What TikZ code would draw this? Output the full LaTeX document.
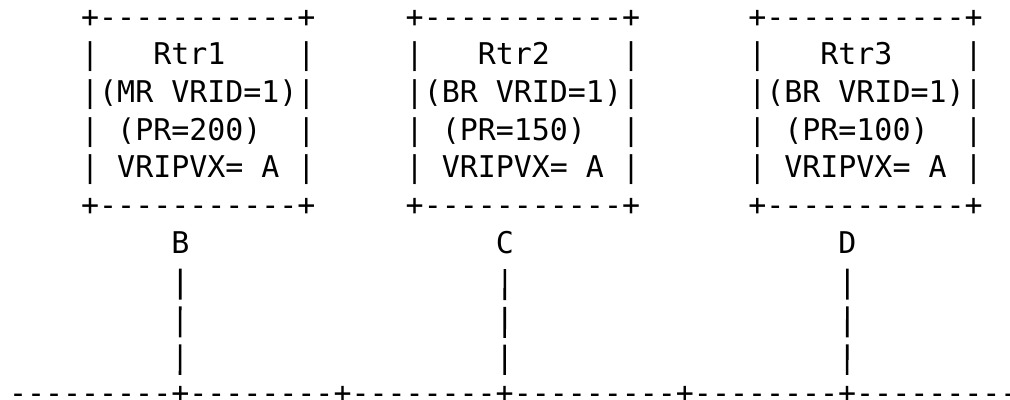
\documentclass[tikz,border=0pt]{standalone}
\usepackage{fontspec}
\setmonofont{DejaVu Sans Mono}

\begin{document}
\begin{tikzpicture}[
x=9.015pt,y=-18.83pt,
every node/.style={font=\ttfamily\fontsize{14.97}{18.83}\selectfont,inner sep=0pt,anchor=base west},
link/.style={line width=1.3pt,dash pattern=on 15.5pt off 3.4pt,shorten <=7.5pt,shorten >=14.5pt}
]
\useasboundingbox (-4.34pt,13.65pt) rectangle (500.66pt,-186.35pt);

% routers
\foreach \name/\col/\rtr/\role/\prio in {rtr1/4/Rtr1/MR/200,rtr2/22/Rtr2/BR/150,rtr3/41/Rtr3/BR/100}{
  \node (\name) at (\col,0) {+-----------+};
  \node (\name-a) at (\col,1) {|~~~\rtr~~~~|};
  \node (\name-b) at (\col,2) {|(\role~VRID=1)|};
  \node (\name-c) at (\col,3) {|~(PR=\prio)~~|};
  \node (\name-d) at (\col,4) {|~VRIPVX=~A~|};
  \node (\name-e) at (\col,5) {+-----------+};
}

% interfaces
\node (b) at (9,6) {B};
\node (c) at (27,6) {C};
\node (d) at (46,6) {D};

% lan
\node (lan) at (0,10) {---------+--------+--------+---------+--------+---------};
\coordinate (lan-b) at (9.5,10);
\coordinate (lan-c) at (27.5,10);
\coordinate (lan-d) at (46.5,10);

\draw[link] (b) -- (lan-b);
\draw[link] (c) -- (lan-c);
\draw[link] (d) -- (lan-d);

\end{tikzpicture}
\end{document}
